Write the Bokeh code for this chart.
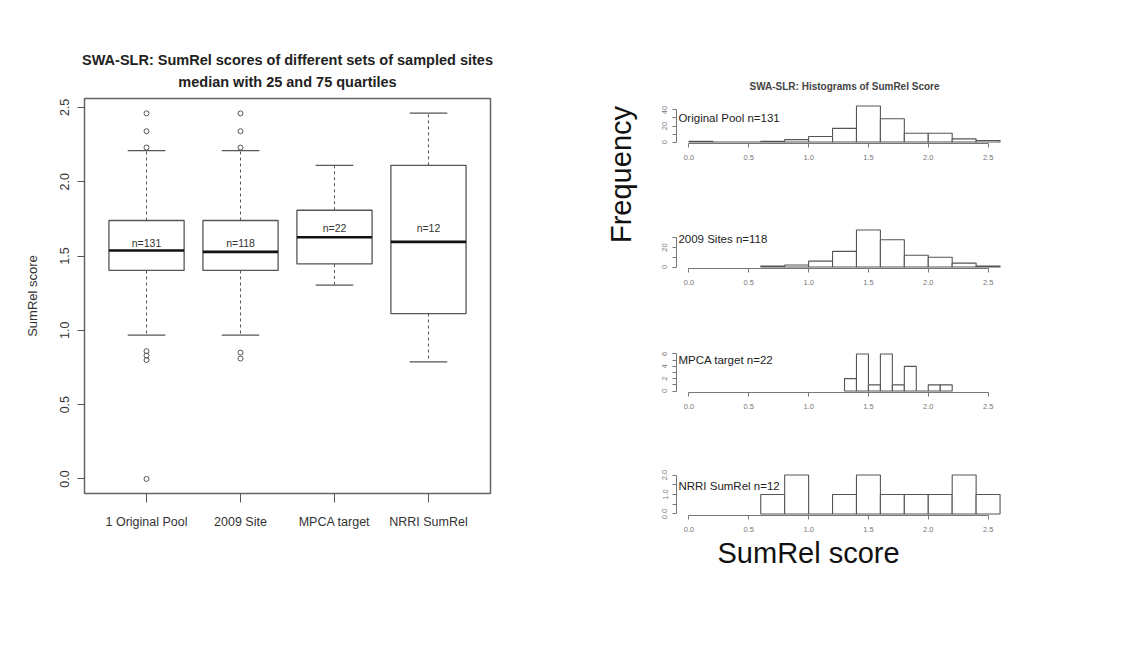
import math
from bokeh.plotting import figure
from bokeh.layouts import row, column
from bokeh.models import (ColumnDataSource, FixedTicker, Range1d, FactorRange,
                          Title, Label)
from bokeh.transform import dodge
from bokeh.core.properties import value
from bokeh.embed import file_html
from bokeh.resources import INLINE

# ---------------- data: boxplot ----------------
groups = ["1 Original Pool", "2009 Site", "MPCA target", "NRRI SumRel"]
n_sizes = [131, 118, 22, 12]
lower_whisker = [0.968, 0.968, 1.304, 0.788]
q1 = [1.403, 1.403, 1.447, 1.113]
median = [1.537, 1.528, 1.626, 1.595]
q3 = [1.739, 1.739, 1.808, 2.110]
upper_whisker = [2.209, 2.209, 2.110, 2.462]
outlier_group = ["1 Original Pool"] * 7 + ["2009 Site"] * 5
outlier_value = [2.46, 2.34, 2.23, 0.86, 0.83, 0.80, 0.0,
                 2.46, 2.34, 2.23, 0.85, 0.81]
y_ticks = [0.0, 0.5, 1.0, 1.5, 2.0, 2.5]
y_tick_labels = ["0.0", "0.5", "1.0", "1.5", "2.0", "2.5"]

# ---------------- data: histograms ----------------
hist_names = ["Original Pool n=131", "2009 Sites n=118",
              "MPCA target n=22", "NRRI SumRel n=12"]
orig_edges = [0.0, 0.2, 0.4, 0.6, 0.8, 1.0, 1.2, 1.4, 1.6, 1.8, 2.0, 2.2, 2.4, 2.6]
orig_counts = [1, 0, 0, 1, 3, 7, 17, 45, 29, 11, 11, 4, 2]
site_edges = [0.6, 0.8, 1.0, 1.2, 1.4, 1.6, 1.8, 2.0, 2.2, 2.4, 2.6]
site_counts = [1, 2, 6, 16, 38, 28, 12, 10, 4, 1]
mpca_edges = [1.3, 1.4, 1.5, 1.6, 1.7, 1.8, 1.9, 2.0, 2.1, 2.2]
mpca_counts = [2, 6, 1, 6, 1, 4, 0, 1, 1]
nrri_edges = [0.6, 0.8, 1.0, 1.2, 1.4, 1.6, 1.8, 2.0, 2.2, 2.4, 2.6]
nrri_counts = [1, 2, 0, 1, 2, 1, 1, 1, 2, 1]
hist_x_ticks = [0.0, 0.5, 1.0, 1.5, 2.0, 2.5]
hist_x_labels = ["0.0", "0.5", "1.0", "1.5", "2.0", "2.5"]
hist_y_ticks = [[0, 10, 20, 30, 40], [0, 10, 20, 30],
                [0, 1, 2, 3, 4, 5, 6], [0, 0.5, 1.0, 1.5, 2.0]]
hist_y_labels = [["0", "", "20", "", "40"], ["0", "", "20", ""],
                 ["0", "", "2", "", "4", "", "6"], ["0.0", "", "1.0", "", "2.0"]]

FONT = "Liberation Sans"

# ---------------- boxplot figure ----------------
p = figure(width=600, height=641,
           x_range=FactorRange(factors=groups, range_padding=0.08,
                               range_padding_units="percent"),
           y_range=Range1d(-0.098, 2.56),
           output_backend="svg", toolbar_location=None,
           min_border_left=84, min_border_right=110,
           min_border_top=98, min_border_bottom=148)
p.xgrid.visible = False
p.ygrid.visible = False
p.outline_line_color = "#666666"
p.outline_line_width = 1.5

src = ColumnDataSource(dict(x=groups, lo=lower_whisker, q1=q1, med=median,
                            q3=q3, hi=upper_whisker,
                            lab=["n=%d" % n for n in n_sizes],
                            laby=[1.59, 1.59, 1.69, 1.69]))
box_col = "#555555"
p.segment(x0="x", y0="q3", x1="x", y1="hi", line_dash="3 3",
          line_color=box_col, line_width=1, source=src)
p.segment(x0="x", y0="q1", x1="x", y1="lo", line_dash="3 3",
          line_color=box_col, line_width=1, source=src)
for col in ("hi", "lo"):
    p.segment(x0=dodge("x", -0.2, range=p.x_range), y0=col,
              x1=dodge("x", 0.2, range=p.x_range), y1=col,
              line_color=box_col, line_width=1.2, source=src)
p.vbar(x="x", width=0.8, bottom="q1", top="q3", fill_color="white",
       line_color=box_col, line_width=1.3, source=src)
p.segment(x0=dodge("x", -0.4, range=p.x_range), y0="med",
          x1=dodge("x", 0.4, range=p.x_range), y1="med",
          line_color="#111111", line_width=2.6, source=src)
p.text(x="x", y="laby", text="lab", text_align="center",
       text_baseline="middle", text_font=value(FONT),
       text_font_size="10.5px", text_color="#333333", source=src)
osrc = ColumnDataSource(dict(x=outlier_group, y=outlier_value))
p.scatter(x="x", y="y", marker="circle", size=5, fill_color=None,
          line_color="#555555", line_width=1, source=osrc)

p.yaxis.ticker = FixedTicker(ticks=y_ticks)
p.yaxis.major_label_overrides = {t: l for t, l in zip(y_ticks, y_tick_labels)}
p.yaxis.major_label_orientation = "parallel"
p.yaxis.axis_label = "SumRel score"
p.yaxis.axis_label_text_font = FONT
p.yaxis.axis_label_text_font_style = "normal"
p.yaxis.axis_label_text_font_size = "13px"
p.yaxis.axis_label_text_color = "#333333"
p.yaxis.axis_label_standoff = 18
p.yaxis.major_label_standoff = 8
for ax in (p.xaxis, p.yaxis):
    ax.axis_line_color = None
    ax.major_tick_line_color = "#555555"
    ax.minor_tick_line_color = None
    ax.major_tick_in = 0
    ax.major_label_text_font = FONT
    ax.major_label_text_font_size = "12.5px"
    ax.major_label_text_color = "#333333"
p.yaxis.major_tick_out = 7
p.xaxis.major_tick_out = 9
p.xaxis.major_label_standoff = 12

# outer title line (default title) and inner line (added, closer to the frame)
p.title.text = "SWA-SLR: SumRel scores of different sets of sampled sites"
p.title.align = "center"
p.title.vertical_align = "bottom"
p.title.text_font = FONT
p.title.text_font_size = "14.5px"
p.title.text_font_style = "bold"
p.title.text_color = "#222222"
p.title.text_line_height = 0.9
p.title.standoff = 0
p.add_layout(Title(text="median with 25 and 75 quartiles",
                   align="center", vertical_align="top",
                   text_font=FONT, text_font_size="14.5px",
                   text_font_style="bold", text_color="#222222",
                   text_line_height=0.9, standoff=13), "above")

# ---------------- "Frequency" label strip ----------------
fq = figure(width=50, height=600, x_range=Range1d(0, 1), y_range=Range1d(0, 1),
            x_axis_type=None, y_axis_type=None, output_backend="svg",
            toolbar_location=None, min_border=0)
fq.outline_line_color = None
fq.grid.visible = False
fq.add_layout(Label(x=20, y=278, x_units="screen", y_units="screen",
                    text="Frequency", angle=math.pi / 2, text_align="center",
                    text_baseline="middle", text_font=FONT,
                    text_font_size="29px", text_color="#111111"))

# ---------------- histograms ----------------
def hist_fig(i, edges, counts, h, top, bottom, label_y):
    ymax = max(counts)
    f = figure(width=463, height=h, x_range=Range1d(-0.104, 2.704),
               y_range=Range1d(-0.04 * ymax, 1.04 * ymax),
               output_backend="svg", toolbar_location=None,
               min_border_left=26, min_border_right=101,
               min_border_top=top, min_border_bottom=bottom)
    f.grid.visible = False
    f.outline_line_color = None
    f.quad(left=edges[:-1], right=edges[1:], bottom=0, top=counts,
           fill_color="white", line_color="#555555", line_width=1.1)
    f.xaxis.ticker = FixedTicker(ticks=hist_x_ticks)
    f.xaxis.major_label_overrides = {t: l for t, l in zip(hist_x_ticks, hist_x_labels)}
    f.xaxis.bounds = (0, 2.5)
    f.yaxis.ticker = FixedTicker(ticks=hist_y_ticks[i])
    f.yaxis.major_label_overrides = {t: l for t, l in zip(hist_y_ticks[i], hist_y_labels[i])}
    f.yaxis.bounds = (0, hist_y_ticks[i][-1])
    f.yaxis.major_label_orientation = "parallel"
    for ax in (f.xaxis, f.yaxis):
        ax.axis_line_color = "#777777"
        ax.major_tick_line_color = "#777777"
        ax.minor_tick_line_color = None
        ax.major_tick_in = 0
        ax.major_tick_out = 4
        ax.major_label_text_font = FONT
        ax.major_label_text_font_size = "7.5px"
        ax.major_label_text_color = "#777777"
    f.xaxis.major_label_standoff = 7
    f.yaxis.major_label_standoff = 5
    f.add_layout(Label(x=-0.088, y=label_y, text=hist_names[i],
                       text_align="left", text_baseline="middle",
                       text_font=FONT, text_font_size="11.5px",
                       text_color="#222222"))
    return f

h1 = hist_fig(0, orig_edges, orig_counts, 185, 104, 42, 30)
h2 = hist_fig(1, site_edges, site_counts, 125, 43, 42, 29)
h3 = hist_fig(2, mpca_edges, mpca_counts, 122, 42, 40, 5.0)
h4 = hist_fig(3, nrri_edges, nrri_counts, 168, 41, 85, 1.46)

h1.title.text = "SWA-SLR: Histograms of SumRel Score"
h1.title.align = "center"
h1.title.text_font = FONT
h1.title.text_font_size = "10px"
h1.title.text_font_style = "bold"
h1.title.text_color = "#444444"
h1.title.standoff = 26
h1.title.offset = -6

h4.add_layout(Title(text="SumRel score", align="left", offset=41, standoff=0,
                    text_font=FONT, text_font_size="29px",
                    text_font_style="normal", text_color="#111111"), "below")

layout = row(p, fq, column(h1, h2, h3, h4))
open("out.html", "w").write(file_html(layout, INLINE))
